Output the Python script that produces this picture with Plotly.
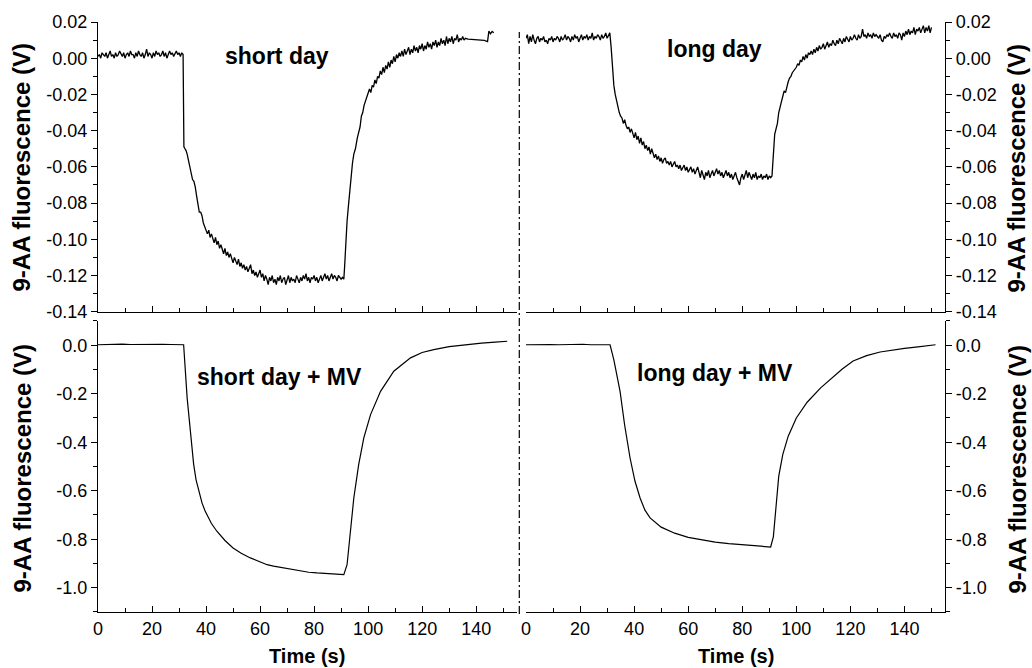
import plotly.graph_objects as go

# ---------------- data ----------------
# Uniformly sampled stretches are stored as value lists sampled every 0.5 s from a start time;
# the transitions are stored as explicit (time, value) lists.
STEP = 0.5

# ---- short day (top-left), volts ----
sd_base_t0 = 0
sd_base = [0.001,0.002,0.000,0.003,0.002,0.001,0.003,0.000,0.002,0.004,0.001,0.002,0.000,0.003,0.001,0.002,
           0.004,0.002,0.001,0.003,0.000,0.002,0.003,0.001,0.004,0.002,0.002,0.000,0.003,0.001,0.004,0.002,
           0.001,0.003,0.000,0.002,0.005,0.001,0.003,0.002,0.000,0.003,0.001,0.004,0.002,0.003,0.001,0.002,
           0.004,0.001,0.003,0.000,0.002,0.004,0.002,0.003,0.001,0.003,0.004,0.002,0.003,0.001,0.003,0.002]
sd_drop_t = [31.8,32.2,32.6,33,33.5,34,34.5,35,35.5,36,36.5,37,37.5,38,38.5,39,39.5]
sd_drop_v = [-0.049,-0.050,-0.051,-0.053,-0.057,-0.060,-0.064,-0.067,-0.068,-0.071,-0.076,-0.080,-0.085,
             -0.085,-0.087,-0.091,-0.093]
sd_plat_t0 = 40
sd_plat = [-0.094,-0.097,-0.095,-0.099,-0.097,-0.100,-0.102,-0.099,-0.103,-0.101,-0.105,-0.103,-0.106,-0.108,
           -0.105,-0.109,-0.107,-0.110,-0.108,-0.111,-0.113,-0.110,-0.112,-0.114,-0.111,-0.115,-0.113,-0.116,
           -0.114,-0.117,-0.115,-0.118,-0.116,-0.114,-0.119,-0.117,-0.120,-0.118,-0.121,-0.119,-0.117,-0.121,
           -0.119,-0.123,-0.120,-0.122,-0.125,-0.121,-0.123,-0.120,-0.124,-0.122,-0.125,-0.121,-0.123,-0.120,
           -0.124,-0.122,-0.121,-0.125,-0.122,-0.120,-0.124,-0.121,-0.123,-0.122,-0.124,-0.120,-0.122,-0.124,
           -0.121,-0.123,-0.120,-0.122,-0.119,-0.123,-0.121,-0.124,-0.121,-0.122,-0.120,-0.123,-0.121,-0.124,
           -0.122,-0.120,-0.123,-0.121,-0.119,-0.122,-0.120,-0.123,-0.121,-0.119,-0.122,-0.120,-0.121,-0.123,
           -0.120,-0.121,-0.122,-0.121,-0.122]
sd_rise_t = [91.3,91.8,92.2,92.8,93.5,94.2,94.7,95.3,96,96.5,97,97.5,98,98.5,99,99.5]
sd_rise_v = [-0.115,-0.100,-0.090,-0.080,-0.068,-0.058,-0.053,-0.050,-0.044,-0.041,-0.038,-0.032,-0.030,
             -0.026,-0.024,-0.021]
sd_rec_t0 = 100
sd_rec = [-0.020,-0.017,-0.019,-0.015,-0.016,-0.012,-0.014,-0.010,-0.011,-0.007,-0.009,-0.005,-0.008,-0.004,
          -0.006,-0.002,-0.005,-0.001,-0.003,0.001,-0.002,0.002,0.000,0.003,0.001,0.004,0.001,0.005,0.002,
          0.004,0.006,0.002,0.005,0.003,0.007,0.004,0.006,0.003,0.007,0.005,0.008,0.004,0.007,0.005,0.009,
          0.006,0.008,0.005,0.009,0.007,0.010,0.006,0.009,0.007,0.011,0.008,0.010,0.007,0.012,0.008,0.011,
          0.009,0.012,0.008,0.011,0.010,0.013,0.009,0.011,0.010,0.012,0.010,0.011]
sd_end_t = [137,139,141,143,144.2,144.7,145.3,145.9,146.5]
sd_end_v = [0.0105,0.0103,0.0100,0.0098,0.0092,0.0150,0.0135,0.0148,0.0140]

# ---- long day (top-right), volts ----
ld_base_t0 = 0
ld_base = [0.011,0.013,0.008,0.012,0.009,0.013,0.010,0.008,0.011,0.012,0.009,0.011,0.010,0.012,0.009,0.010,
           0.008,0.011,0.010,0.012,0.009,0.011,0.010,0.012,0.011,0.009,0.012,0.010,0.011,0.013,0.010,0.012,
           0.011,0.009,0.012,0.010,0.013,0.011,0.012,0.009,0.011,0.013,0.010,0.012,0.011,0.013,0.010,0.012,
           0.011,0.014,0.010,0.012,0.011,0.013,0.012,0.010,0.013,0.011,0.012,0.014,0.011,0.013,0.014]
ld_drop_t = [31.5,32,32.5,33,33.5,34,34.5,35,35.5,36,36.5,37,37.5]
ld_drop_v = [0.006,-0.008,-0.015,-0.020,-0.024,-0.027,-0.030,-0.032,-0.033,-0.036,-0.034,-0.037,-0.039]
ld_plat_t0 = 38
ld_plat = [-0.038,-0.041,-0.039,-0.042,-0.044,-0.041,-0.045,-0.043,-0.047,-0.044,-0.048,-0.046,-0.050,-0.048,
           -0.051,-0.049,-0.053,-0.050,-0.052,-0.055,-0.053,-0.056,-0.054,-0.057,-0.055,-0.058,-0.056,-0.055,
           -0.058,-0.057,-0.059,-0.057,-0.060,-0.058,-0.057,-0.060,-0.059,-0.061,-0.059,-0.062,-0.060,-0.059,
           -0.062,-0.060,-0.063,-0.061,-0.060,-0.063,-0.061,-0.064,-0.062,-0.060,-0.063,-0.066,-0.062,-0.064,
           -0.067,-0.063,-0.065,-0.062,-0.066,-0.064,-0.062,-0.065,-0.063,-0.061,-0.064,-0.062,-0.065,-0.063,
           -0.066,-0.064,-0.062,-0.065,-0.063,-0.066,-0.064,-0.067,-0.065,-0.063,-0.066,-0.068,-0.070,-0.066,
           -0.064,-0.067,-0.065,-0.062,-0.066,-0.063,-0.065,-0.067,-0.064,-0.066,-0.063,-0.067,-0.065,-0.066,
           -0.064,-0.067,-0.065,-0.066,-0.064,-0.067,-0.065,-0.066,-0.065]
ld_rise_t = [91.3,91.6,92,92.5,93,93.5,94,94.5,95,95.5,96,96.5,97,97.5,98,98.5,99,99.5]
ld_rise_v = [-0.058,-0.046,-0.042,-0.039,-0.036,-0.030,-0.026,-0.024,-0.021,-0.018,-0.019,-0.015,-0.013,
             -0.011,-0.010,-0.008,-0.007,-0.006]
ld_rec_t0 = 100
ld_rec = [-0.005,-0.003,-0.004,-0.001,-0.002,0.001,-0.001,0.002,0.000,0.003,0.002,0.004,0.002,0.005,0.003,
          0.006,0.004,0.007,0.005,0.006,0.008,0.005,0.007,0.009,0.006,0.008,0.007,0.010,0.008,0.007,0.010,
          0.008,0.011,0.009,0.008,0.011,0.009,0.012,0.010,0.009,0.012,0.010,0.011,0.013,0.011,0.010,0.013,
          0.011,0.012,0.016,0.012,0.013,0.011,0.014,0.012,0.013,0.011,0.014,0.012,0.013,0.012,0.011,0.013,
          0.010,0.009,0.012,0.011,0.013,0.012,0.014,0.012,0.011,0.014,0.012,0.013,0.011,0.014,0.013,0.010,
          0.014,0.012,0.015,0.013,0.016,0.013,0.015,0.014,0.017,0.013,0.016,0.015,0.017,0.014,0.016,0.018,
          0.014,0.017,0.015,0.018,0.014,0.017]

# ---- short day + MV (bottom-left), volts ----
sdmv_t = [0,3,6,9,12,15,18,21,24,27,30,31.7,33,34.2,35.4,36.3,37.3,38.5,39.7,42,44,47,50,53,56.4,60,
          62.6,65,68.7,72,74.9,78,81.1,85,88,91,92.2,93.4,94.7,96.5,98.4,100.9,104.6,109.5,115.7,120,
          124.3,130,136.6,142,147,151.5]
sdmv_v = [0.002,0.004,0.003,0.005,0.003,0.004,0.003,0.005,0.004,0.003,0.004,0.002,-0.217,-0.355,-0.490,
          -0.555,-0.600,-0.650,-0.685,-0.735,-0.767,-0.805,-0.836,-0.858,-0.877,-0.893,-0.905,-0.911,
          -0.918,-0.926,-0.932,-0.936,-0.939,-0.942,-0.944,-0.946,-0.905,-0.767,-0.630,-0.492,-0.382,
          -0.286,-0.190,-0.107,-0.052,-0.030,-0.018,-0.006,0.003,0.009,0.013,0.0165]

# ---- long day + MV (bottom-right), volts ----
ldmv_t = [0,3,6,9,12,15,18,21,24,27,30,31.1,32.5,34.8,36.5,38.5,40.3,42.2,44,45.9,50,55,60,65,70,75,80,85,
          90.5,91.5,92.5,93.5,95,97,100,104,109,113,117,121,126,131,136,140,145,151.5]
ldmv_v = [0.002,0.003,0.001,0.003,0.002,0.003,0.002,0.004,0.002,0.003,0.002,0.002,-0.060,-0.190,-0.330,
          -0.465,-0.560,-0.630,-0.680,-0.712,-0.750,-0.775,-0.792,-0.803,-0.812,-0.818,-0.823,-0.828,
          -0.832,-0.790,-0.650,-0.540,-0.450,-0.375,-0.300,-0.235,-0.176,-0.135,-0.098,-0.065,-0.043,
          -0.028,-0.018,-0.013,-0.007,0.002]

top_tickvals = [0.02, 0.00, -0.02, -0.04, -0.06, -0.08, -0.10, -0.12, -0.14]
top_ticktext = ["0.02", "0.00", "-0.02", "-0.04", "-0.06", "-0.08", "-0.10", "-0.12", "-0.14"]
bot_tickvals = [0.0, -0.2, -0.4, -0.6, -0.8, -1.0]
bot_ticktext = ["0.0", "-0.2", "-0.4", "-0.6", "-0.8", "-1.0"]
x_tickvals = [0, 20, 40, 60, 80, 100, 120, 140]
x_ticktext = ["0", "20", "40", "60", "80", "100", "120", "140"]

panel_labels = ["short day", "long day", "short day + MV", "long day + MV"]
y_title = "9-AA fluorescence (V)"
x_title = "Time (s)"


def sample_times(t0, values):
    return [t0 + STEP * i for i in range(len(values))]


sd_t = (sample_times(sd_base_t0, sd_base) + sd_drop_t + sample_times(sd_plat_t0, sd_plat)
        + sd_rise_t + sample_times(sd_rec_t0, sd_rec) + sd_end_t)
sd_v = sd_base + sd_drop_v + sd_plat + sd_rise_v + sd_rec + sd_end_v
ld_t = (sample_times(ld_base_t0, ld_base) + ld_drop_t + sample_times(ld_plat_t0, ld_plat)
        + ld_rise_t + sample_times(ld_rec_t0, ld_rec))
ld_v = ld_base + ld_drop_v + ld_plat + ld_rise_v + ld_rec

# ---------------- figure ----------------
FONT = "Liberation Sans, Arial, sans-serif"
fig = go.Figure()
line_top = dict(color="black", width=1.3)
line_bot = dict(color="black", width=1.2)
fig.add_trace(go.Scatter(x=sd_t, y=sd_v, mode="lines", line=line_top, xaxis="x", yaxis="y"))
fig.add_trace(go.Scatter(x=ld_t, y=ld_v, mode="lines", line=line_top, xaxis="x2", yaxis="y2"))
fig.add_trace(go.Scatter(x=sdmv_t, y=sdmv_v, mode="lines", line=line_bot, xaxis="x3", yaxis="y3"))
fig.add_trace(go.Scatter(x=ldmv_t, y=ldmv_v, mode="lines", line=line_bot, xaxis="x4", yaxis="y4"))

W, H = 1032, 668
PL, PR, PT, PB = 98, 945, 20, 612          # plot area in page pixels
ML, MR, MT, MB = PL, W - PR, PT, H - PB
PW, PH = PR - PL, PB - PT


def px_x(px):
    return (px - PL) / PW


def px_y(py):
    return (PB - py) / PH


xl = [0, px_x(516.7)]
xr = [px_x(526), 1]
yt = [px_y(310.7), 1]
yb = [0, px_y(320)]

tickfont = dict(family=FONT, size=18, color="black")
axis_common = dict(showline=True, linecolor="black", linewidth=1.3, showgrid=False, zeroline=False,
                   mirror=False, tickcolor="black", tickwidth=1.2)

def xaxis(domain, anchor, labels):
    return dict(domain=domain, anchor=anchor, range=[0, 155], tickmode="array",
                tickvals=x_tickvals, ticktext=x_ticktext, ticks="inside", ticklen=6,
                showticklabels=labels, tickfont=tickfont,
                minor=dict(tickmode="linear", tick0=10, dtick=20, ticks="inside", ticklen=4,
                           tickcolor="black", tickwidth=1.1),
                **axis_common)

def yaxis(domain, anchor, side, rng, tv, tt, minor_d):
    return dict(domain=domain, anchor=anchor, side=side, range=rng, tickmode="array",
                tickvals=tv, ticktext=tt, ticks="outside", ticklen=6, tickfont=tickfont,
                minor=dict(tickmode="linear", tick0=0, dtick=minor_d, ticks="outside", ticklen=4,
                           tickcolor="black", tickwidth=1.1),
                **axis_common)

fig.update_layout(
    width=W, height=H,
    margin=dict(l=ML, r=MR, t=MT, b=MB, pad=0),
    paper_bgcolor="white", plot_bgcolor="white",
    showlegend=False,
    xaxis=xaxis(xl, "y", False),
    xaxis2=xaxis(xr, "y2", False),
    xaxis3=xaxis(xl, "y3", True),
    xaxis4=xaxis(xr, "y4", True),
    yaxis=yaxis(yt, "x", "left", [-0.14, 0.02], top_tickvals, top_ticktext, 0.01),
    yaxis2=yaxis(yt, "x2", "right", [-0.14, 0.02], top_tickvals, top_ticktext, 0.01),
    yaxis3=yaxis(yb, "x3", "left", [-1.1, 0.1], bot_tickvals, bot_ticktext, 0.1),
    yaxis4=yaxis(yb, "x4", "right", [-1.1, 0.1], bot_tickvals, bot_ticktext, 0.1),
)

# divider (dash-dot)
fig.add_shape(type="line", xref="paper", yref="paper", x0=px_x(519.3), x1=px_x(519.3),
              y0=px_y(614), y1=px_y(30),
              line=dict(color="black", width=1.2, dash="8px,3px,2px,3px"))

bold = dict(family=FONT, size=23, color="black")
label_pos = [(276.7, 54), (714, 47), (279, 376), (715, 372)]
for txt, (px, py) in zip(panel_labels, label_pos):
    fig.add_annotation(text="<b>%s</b>" % txt, x=px_x(px), y=px_y(py), xref="paper", yref="paper",
                       showarrow=False, xanchor="center", yanchor="middle", font=bold)

ytfont = dict(family=FONT, size=24, color="black")
for px in (22, 1017):
    for py in (166, 468):
        fig.add_annotation(text="<b>%s</b>" % y_title, x=px_x(px), y=px_y(py), xref="paper",
                           yref="paper", showarrow=False, textangle=-90, xanchor="center",
                           yanchor="middle", font=ytfont)

xtfont = dict(family=FONT, size=20, color="black")
for px in (307, 735.5):
    fig.add_annotation(text="<b>%s</b>" % x_title, x=px_x(px), y=px_y(656), xref="paper",
                       yref="paper", showarrow=False, xanchor="center", yanchor="middle", font=xtfont)

# remove the default 8px page margin so the 1032x668 figure fills the window exactly
fig.write_html("out.html", config={"displayModeBar": False},
               post_script="document.body.style.margin='0';document.body.style.overflow='hidden';")
